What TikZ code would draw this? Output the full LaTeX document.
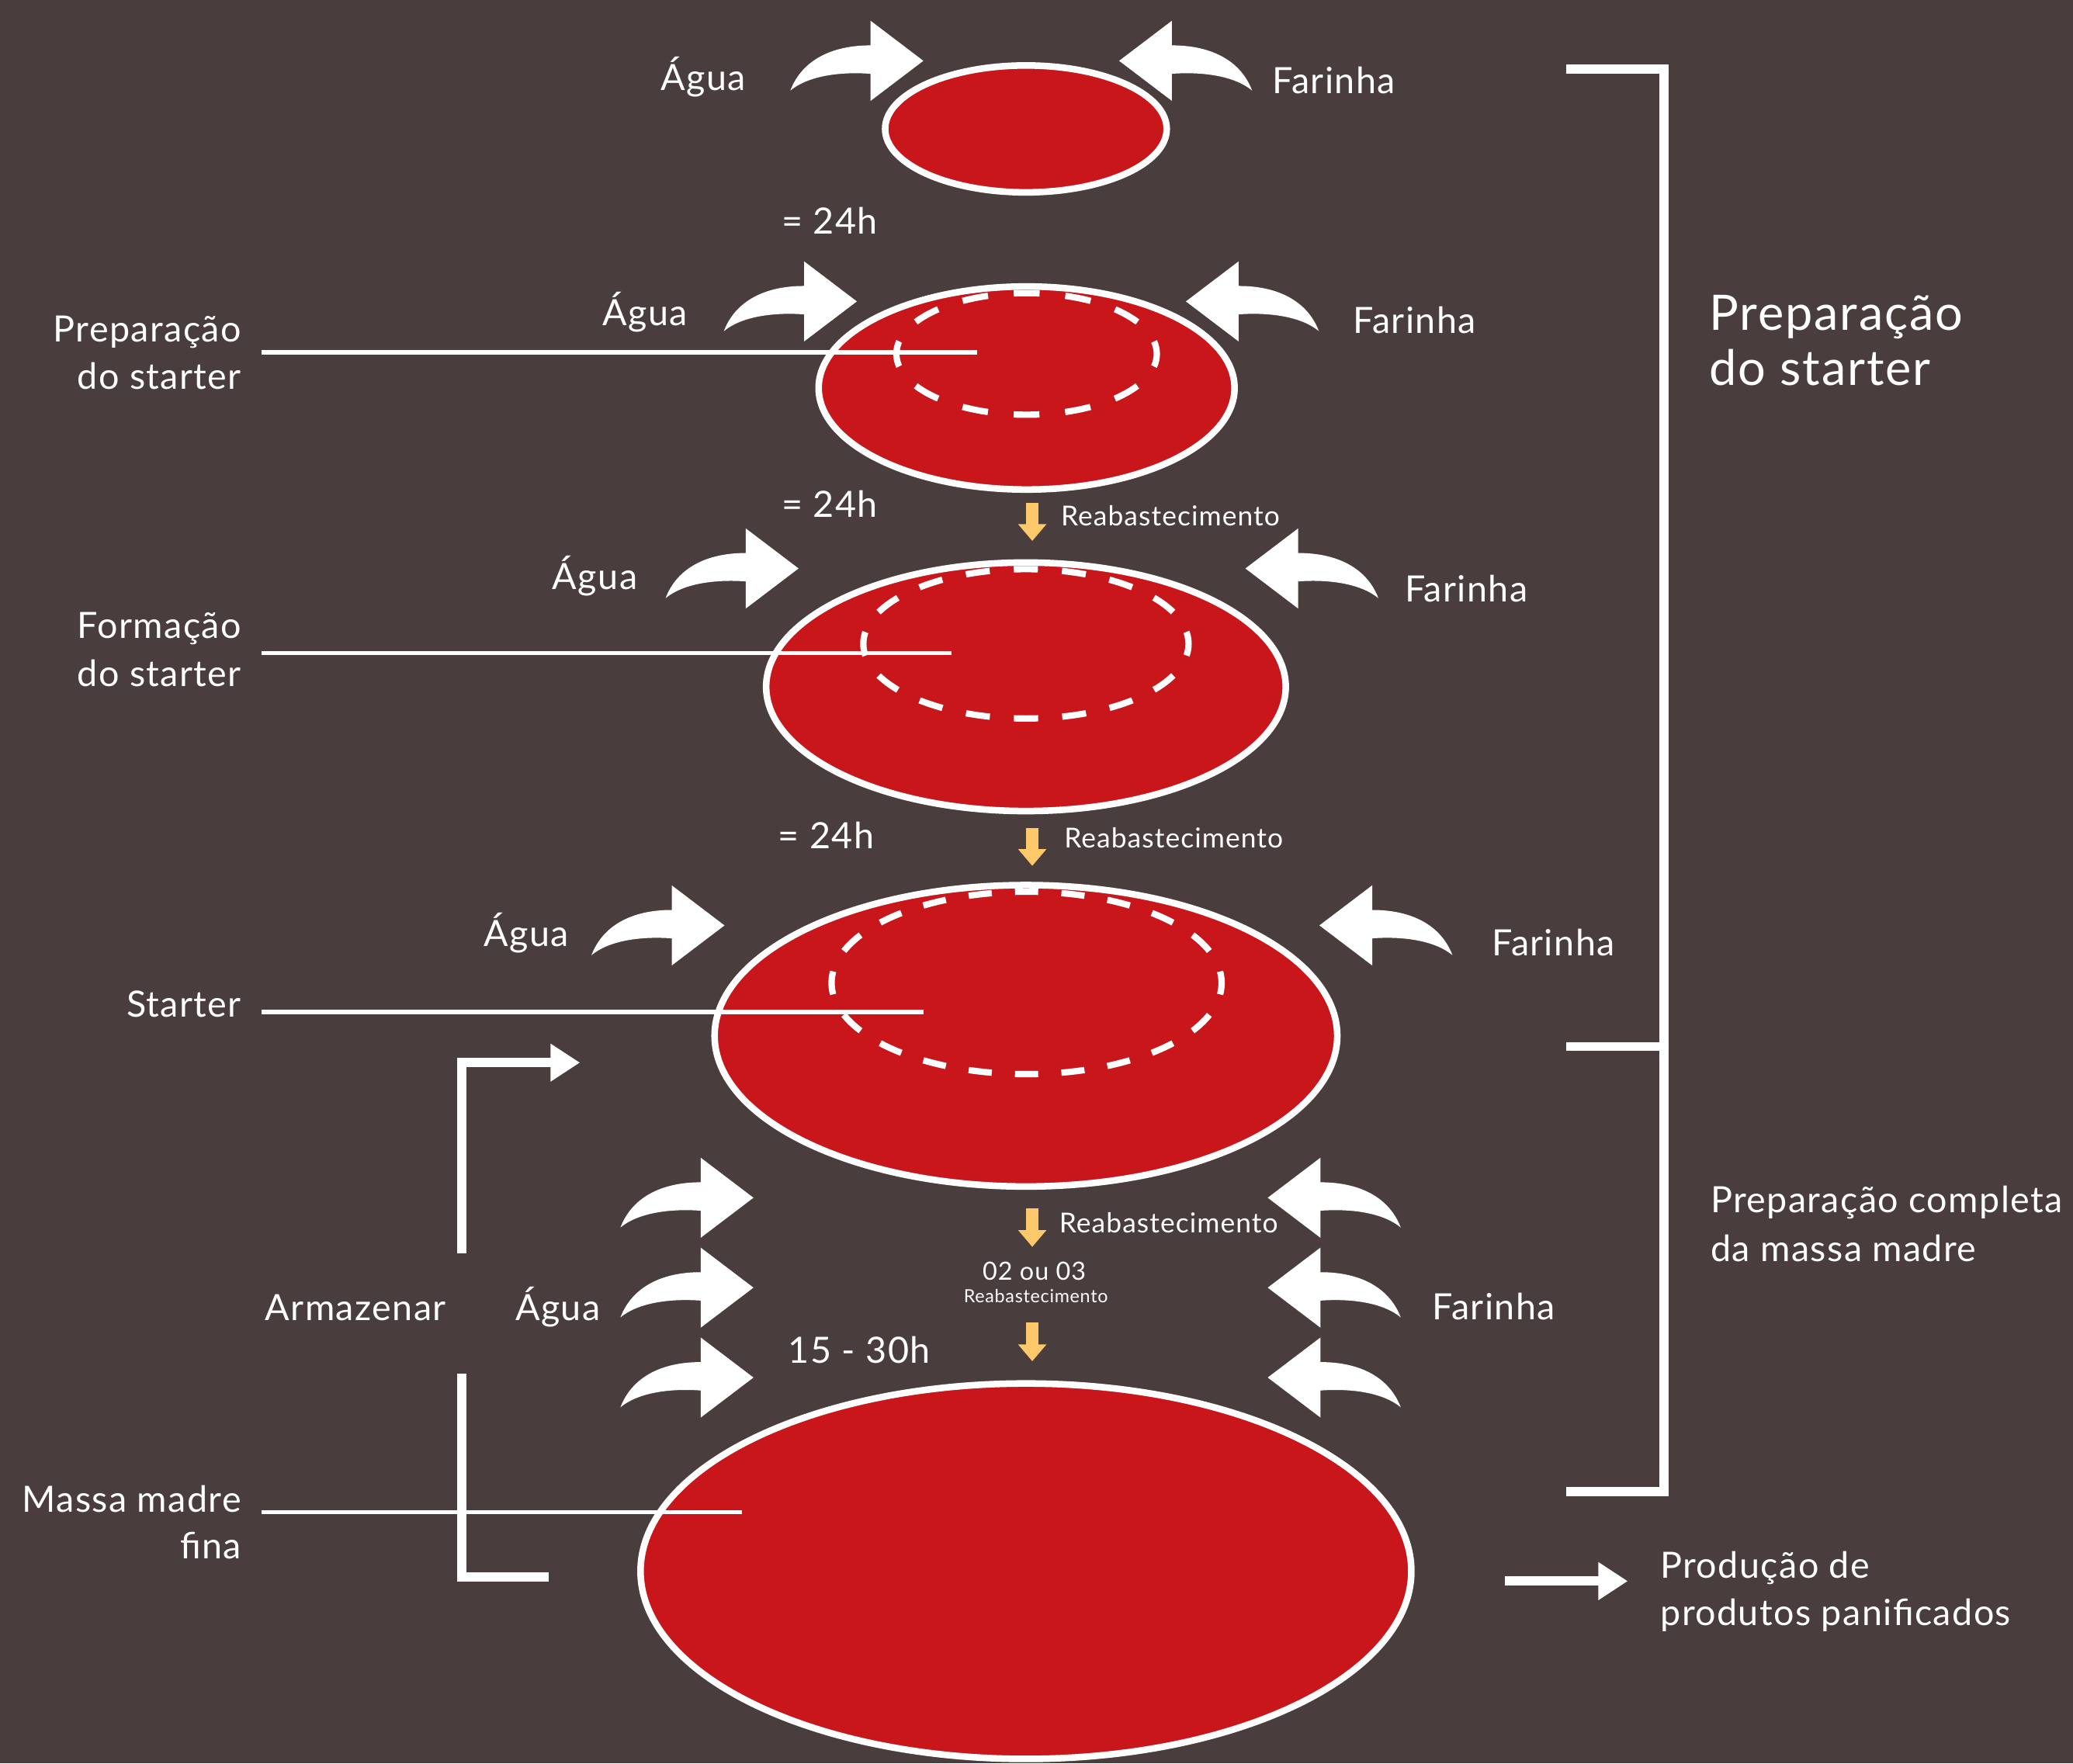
\documentclass[tikz,border=0pt]{standalone}
\usepackage{fontspec}
\setmainfont{Lato}[LetterSpace=3.0]
\usetikzlibrary{shapes.geometric,arrows.meta}
\definecolor{bgbrown}{HTML}{4A3D3D}
\definecolor{cakered}{HTML}{C8161B}
\definecolor{refill}{HTML}{FDC96A}
\begin{document}
\begin{tikzpicture}[x=1pt,y=-1pt,
  cake/.style={ellipse, fill=cakered, draw=white, line width=5pt, inner sep=0pt, outer sep=0pt},
  ring/.style={draw=white, line width=4.8pt},
  lbl/.style={text=white, inner sep=0pt, outer sep=0pt, font=\fontsize{27.4}{33}\selectfont},
  big/.style={text=white, inner sep=0pt, outer sep=0pt, font=\fontsize{37}{44}\selectfont},
  mid/.style={text=white, inner sep=0pt, outer sep=0pt, font=\fontsize{20.8}{24}\selectfont},
  midnum/.style={text=white, inner sep=0pt, outer sep=0pt, font=\fontsize{19}{23}\selectfont},
  tiny/.style={text=white, inner sep=0pt, outer sep=0pt, font=\fontsize{13.7}{16}\selectfont},
  leader/.style={draw=white, line width=3pt},
  refillarrow/.style={draw=refill, line width=9.2pt, -{Triangle[length=12.7pt,width=20.6pt]}},
  bracket/.style={draw=white, line width=7pt, line join=miter},
  pics/bendarrow/.style={code={
    \fill[white] (0,0) -- (-39.9,-30.3) -- (-39.9,-11.7)
      .. controls (-70,-11.7) and (-92,0) .. (-100.6,22.5)
      .. controls (-88,12) and (-65,8) .. (-39.9,9.8)
      -- (-39.9,30.3) -- cycle;}}
]
\useasboundingbox (0,0) rectangle (1568,1334);
\fill[bgbrown] (0,0) rectangle (1568,1334);

% ---- cakes (outer ellipses)
\node[cake, minimum width=213pt, minimum height=96pt] (e1) at (776,97.5) {};
\node[cake, minimum width=314.6pt, minimum height=153.6pt] (e2) at (776.5,293.5) {};
\node[cake, minimum width=393pt, minimum height=188pt] (e3) at (776,519.5) {};
\node[cake, minimum width=471pt, minimum height=228pt] (e4) at (776,783.5) {};
\node[cake, minimum width=583pt, minimum height=284pt] (e5) at (776,1188.5) {};

% ---- dashed inner rings (start at bottom, a dash centred there)
\draw[ring, dash pattern=on 19.55pt off 19.55pt, dash phase=9.78pt] (776.5,313.7) arc[start angle=90, end angle=450, x radius=98.5, y radius=46];
\draw[ring, dash pattern=on 18.23pt off 18.23pt, dash phase=9.12pt] (776,543.5) arc[start angle=90, end angle=450, x radius=123, y radius=56.5];
\draw[ring, dash pattern=on 17.57pt off 17.57pt, dash phase=8.78pt] (776.5,812.5) arc[start angle=90, end angle=450, x radius=147.5, y radius=69];

% ---- curved input arrows
\pic at (698.4,46) {bendarrow};
\pic[xscale=-1] at (846.5,46) {bendarrow};
\pic at (648.1,228) {bendarrow};
\pic[xscale=-1] at (897,228) {bendarrow};
\pic at (604,430) {bendarrow};
\pic[xscale=-1] at (942,430) {bendarrow};
\pic at (548,700) {bendarrow};
\pic[xscale=-1] at (998,700) {bendarrow};
\pic at (569.9,906) {bendarrow};
\pic at (569.9,974) {bendarrow};
\pic at (569.9,1042) {bendarrow};
\pic[xscale=-1] at (958.9,906) {bendarrow};
\pic[xscale=-1] at (958.9,974) {bendarrow};
\pic[xscale=-1] at (958.9,1042) {bendarrow};

% ---- Água / Farinha labels
\node[lbl, anchor=base] (a1) at (532,68.5) {Água};
\node[lbl, anchor=base] (f1) at (1009,71) {Farinha};
\node[lbl, anchor=base] (a2) at (488,246) {Água};
\node[lbl, anchor=base] (f2) at (1070,252) {Farinha};
\node[lbl, anchor=base] (a3) at (450,446) {Água};
\node[lbl, anchor=base] (f3) at (1109,455) {Farinha};
\node[lbl, anchor=base] (a4) at (398,716) {Água};
\node[lbl, anchor=base] (f4) at (1175,723) {Farinha};
\node[lbl, anchor=base] (a5) at (422,999) {Água};
\node[lbl, anchor=base] (f5) at (1130,998) {Farinha};
\node[lbl, anchor=base] (arm) at (269,999) {Armazenar};

% ---- times
\node[lbl, anchor=base] (t1) at (627.5,177) {= 24h};
\node[lbl, anchor=base] (t2) at (627.5,391.5) {= 24h};
\node[lbl, anchor=base] (t3) at (625,642) {= 24h};
\node[lbl, anchor=base] (t4) at (650,1031) {15 - 30h};

% ---- refill arrows and texts
\coordinate (r1a) at (780.8,380.4); \coordinate (r1b) at (780.8,409.2);
\coordinate (r2a) at (780.8,626.2); \coordinate (r2b) at (780.8,655);
\coordinate (r3a) at (780.8,913.9); \coordinate (r3b) at (780.8,943.2);
\coordinate (r4a) at (780.8,1000.4); \coordinate (r4b) at (780.8,1029.7);
\draw[refillarrow] (r1a) -- (r1b);
\draw[refillarrow] (r2a) -- (r2b);
\draw[refillarrow] (r3a) -- (r3b);
\draw[refillarrow] (r4a) -- (r4b);
\node[mid, anchor=base west] (rb1) at (802.5,398) {Reabastecimento};
\node[mid, anchor=base west] (rb2) at (805,641.5) {Reabastecimento};
\node[mid, anchor=base west] (rb3) at (801.2,932.4) {Reabastecimento};
\node[midnum, anchor=base] (n23) at (782.3,968.6) {02 ou 03};
\node[tiny, anchor=base] (rb4) at (783.5,985.3) {Reabastecimento};

% ---- left labels with leader lines
\node[lbl, anchor=base east] (lp1) at (182.5,258.3) {Preparação};
\node[lbl, anchor=base east] (lp2) at (182.5,294.5) {do starter};
\node[lbl, anchor=base east] (lf1) at (182.5,483) {Formação};
\node[lbl, anchor=base east] (lf2) at (182.5,519.5) {do starter};
\node[lbl, anchor=base east] (ls) at (182.5,769.5) {Starter};
\node[lbl, anchor=base east] (lm1) at (182.5,1143.8) {Massa madre};
\node[lbl, anchor=base east] (lm2) at (182.5,1179) {fina};
\coordinate (lp-s) at (198,266.5); \coordinate (lp-e) at (738.9,266.5);
\coordinate (lf-s) at (198,494); \coordinate (lf-e) at (720,494);
\coordinate (ls-s) at (198,765.5); \coordinate (ls-e) at (698.7,765.5);
\coordinate (lm-s) at (198,1144); \coordinate (lm-e) at (561,1144);
\draw[leader] (lp-s) -- (lp-e);
\draw[leader] (lf-s) -- (lf-e);
\draw[leader] (ls-s) -- (ls-e);
\draw[leader] (lm-s) -- (lm-e);

% ---- Armazenar connectors
\coordinate (arm-up0) at (349.3,948); \coordinate (arm-up1) at (438.7,803.8);
\coordinate (arm-lo0) at (349.3,1039.1); \coordinate (arm-lo1) at (414.9,1192.8);
\draw[bracket, -{Triangle[length=22.3pt,width=27.2pt]}] (arm-up0) |- (arm-up1);
\draw[bracket] (arm-lo0) |- (arm-lo1);

% ---- right bracket and texts
\coordinate (bt) at (1184.9,52.2); \coordinate (bm) at (1184.9,791.6); \coordinate (bb) at (1184.9,1128.2);
\draw[bracket] (bt) -- (1258.7,52.2) -- (1258.7,1128.2) -- (bb);
\draw[bracket] (bm) -- (1258.7,791.6);
\node[big, anchor=base west] (R1) at (1293,249.5) {Preparação};
\node[big, anchor=base west] (R2) at (1293,291.6) {do starter};
\node[lbl, anchor=base west] (C1) at (1294,917) {Preparação completa};
\node[lbl, anchor=base west] (C2) at (1294,954) {da massa madre};

% ---- production
\node[lbl, anchor=base west] (P1) at (1256,1194) {Produção de};
\node[lbl, anchor=base west] (P2) at (1256,1229.5) {produtos panificados};
\coordinate (prod-s) at (1138.5,1196); \coordinate (prod-e) at (1231.2,1196);
\draw[bracket, -{Triangle[length=22.2pt,width=27.2pt]}] (prod-s) -- (prod-e);
\end{tikzpicture}
\end{document}
